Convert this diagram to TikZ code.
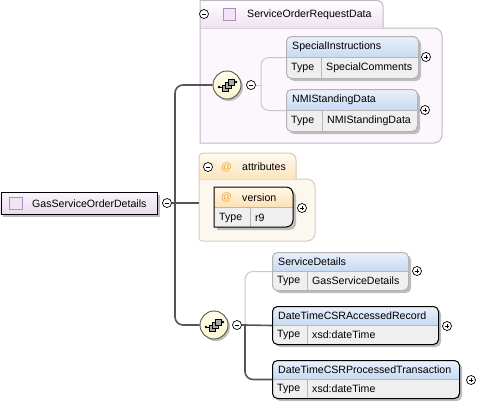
\documentclass[tikz,border=0pt]{standalone}
\usepackage{fontspec}
\setmainfont{Liberation Sans}
\usetikzlibrary{shadows}
\definecolor{shadowc}{HTML}{BDBDBD}
\definecolor{typefill}{HTML}{EFEFEF}
\definecolor{hdtop}{HTML}{EAF1FB}
\definecolor{hdbot}{HTML}{C8DAF2}
\definecolor{divc}{HTML}{B8B8B8}
\definecolor{optgray}{HTML}{B4B4B4}
\definecolor{conngray}{HTML}{555555}
\definecolor{optconn}{HTML}{C8C8C8}
\definecolor{grpborder}{HTML}{C2B8C6}
\definecolor{grpfill}{HTML}{FBF7FC}
\definecolor{tabbot}{HTML}{EDE1F1}
\definecolor{attborder}{HTML}{D6CCBC}
\definecolor{attfill}{HTML}{FDF8EF}
\definecolor{atttabbot}{HTML}{FBE4BD}
\definecolor{atttabtop}{HTML}{FFFAF0}
\definecolor{athdtop}{HTML}{FFF7E8}
\definecolor{athdbot}{HTML}{FCE2B4}
\definecolor{atsign}{HTML}{E8A33C}
\definecolor{roottop}{HTML}{FAF5FB}
\definecolor{rootbot}{HTML}{E8DCEE}
\definecolor{iconfill}{HTML}{F1E4F5}
\definecolor{iconborder}{HTML}{B48CC4}
\definecolor{seqfill}{HTML}{FCF7CE}
\definecolor{seqtop}{HTML}{FFFDEB}
\definecolor{sqfill}{HTML}{A8A8A8}
\tikzset{
  lbl/.style={inner sep=0pt, anchor=west, text=black},
  reqel/.style={draw=black, line width=1pt, rounded corners=5pt, inner sep=0pt},
  optel/.style={draw=optgray, line width=1pt, rounded corners=5pt, inner sep=0pt},
  pmcirc/.style={circle, draw=black, fill=white, inner sep=0pt, minimum size=9pt, line width=0.7pt},
  minusc/.style={pmcirc, path picture={\draw[line width=0.8pt] ([xshift=-2.3pt]path picture bounding box.center) -- ([xshift=2.3pt]path picture bounding box.center);}},
  plusc/.style={pmcirc, path picture={\draw[line width=0.8pt] ([xshift=-2.3pt]path picture bounding box.center) -- ([xshift=2.3pt]path picture bounding box.center); \draw[line width=0.8pt] ([yshift=-2.3pt]path picture bounding box.center) -- ([yshift=2.3pt]path picture bounding box.center);}},
  seqc/.style={circle, draw=conngray, line width=0.9pt, inner sep=0pt, minimum size=28pt, top color=seqtop, bottom color=seqfill, drop shadow={shadow xshift=2pt, shadow yshift=-2pt, fill=shadowc, opacity=1}},
  conn/.style={draw=conngray, line width=1.6pt},
  oconn/.style={draw=optconn, line width=1pt},
}
\newcommand{\xsdelem}[9]{%
  \fill[shadowc, rounded corners=5pt] ({#3+3},{#4+3}) rectangle ({#5+3},{#6+3});
  \begin{scope}
    \clip[rounded corners=5pt] (#3,#4) rectangle (#5,#6);
    \fill[typefill] (#3,#4) rectangle (#5,#6);
    \shade[top color=hdtop, bottom color=hdbot] (#3,#4) rectangle (#5,{(#4+#6)/2});
    \draw[divc] (#3,{(#4+#6)/2}) -- (#5,{(#4+#6)/2});
    \draw[divc] (#7,{(#4+#6)/2}) -- (#7,#6);
  \end{scope}
  \node[#1, minimum width={#5-#3}, minimum height={#6-#4}, anchor=north west] (#2) at (#3,#4) {};
  \node[lbl] (#2-n) at ({#3+6},{(3*#4+#6)/4+0.5}) {#8};
  \node[lbl] (#2-k) at ({#3+5},{(#4+3*#6)/4+0.5}) {Type};
  \node[lbl] (#2-v) at ({#7+5},{(#4+3*#6)/4+0.5}) {#9};
}
\newcommand{\seqicon}[1]{%
  \begin{scope}[shift={(#1)}]
    \draw[line width=0.8pt] (-8,2) -- (-3,2);
    \fill (-8,2) circle (1.3);
    \draw[line width=0.8pt] (4,-3) -- (9,-3);
    \fill (9,-3) circle (1.3);
    \draw[fill=sqfill, line width=0.6pt] (-5,0) rectangle (1,6);
    \draw[fill=sqfill, line width=0.6pt] (-2,-3) rectangle (4,3);
    \draw[fill=sqfill, line width=0.6pt] (1,-6) rectangle (7,0);
  \end{scope}
}
\begin{document}
\begin{tikzpicture}[x=1pt,y=-1pt, every node/.style={font=\fontsize{10.6}{12}\selectfont}]
\useasboundingbox (0,0) rectangle (478,405);

% ---------- group ServiceOrderRequestData ----------
\draw[grpborder, fill=grpfill, line width=1pt] (200,28) [rounded corners=8pt] -- (442,28) -- (442,143) [sharp corners] -- (200,143) -- cycle;
\shade[top color=white, bottom color=tabbot, rounded corners=6pt] (200,0.5) [sharp corners] -- (200,28) -- (383,28) [rounded corners=6pt] -- (383,0.5) -- cycle;
\draw[grpborder, line width=1pt] (200,28) -- (200,0.5) [rounded corners=6pt] -- (383,0.5) -- (383,28);
\node[minusc] (mg1) at (204,14) {};
\draw[iconborder, fill=iconfill, line width=0.8pt] (223,8) rectangle (235,20);
\node[lbl] (g1t) at (247,14.5) {ServiceOrderRequestData};

% ---------- group attributes ----------
\draw[attborder, fill=attfill, line width=1pt] (199,179) [rounded corners=8pt] -- (315,179) -- (315,241) [rounded corners=3pt] -- (199,241) [sharp corners] -- cycle;
\shade[top color=atttabtop, bottom color=atttabbot] (199,179) [rounded corners=4pt] -- (199,153) [rounded corners=7pt] -- (296,153) [sharp corners] -- (296,179) -- cycle;
\draw[attborder, line width=1pt] (199,179) [rounded corners=4pt] -- (199,153) [rounded corners=7pt] -- (296,153) [sharp corners] -- (296,179);
\node[minusc] (mg2) at (208,167) {};
\node[lbl, text=atsign] (at1) at (221,167) {@};
\node[lbl] (g2t) at (242,167) {attributes};
\coordinate (ag) at (199,203);

% version attribute
\fill[shadowc] (217,190) [rounded corners=7pt] -- (296,190) -- (296,230) [sharp corners] -- (217,230) -- cycle;
\begin{scope}
  \clip (214,187) [rounded corners=7pt] -- (293,187) -- (293,227) [sharp corners] -- (214,227) -- cycle;
  \fill[typefill] (214,187) rectangle (293,227);
  \shade[top color=athdtop, bottom color=athdbot] (214,187) rectangle (293,207);
  \draw[divc] (214,207) -- (293,207);
  \draw[divc] (250,207) -- (250,227);
\end{scope}
\draw[black, line width=1pt] (214,187) [rounded corners=7pt] -- (293,187) -- (293,227) [sharp corners] -- (214,227) -- cycle;
\coordinate (ver) at (293,207);
\node[lbl, text=atsign] (at2) at (221,197.5) {@};
\node[lbl] (vern) at (242,197.5) {version};
\node[lbl] (verk) at (219,217.5) {Type};
\node[lbl] (verv) at (255,217.5) {r9};
\node[plusc] (pv) at (302,208) {};

% ---------- root element ----------
\fill[shadowc] (3,195) rectangle (160,217);
\shade[top color=roottop, bottom color=rootbot] (0,192) rectangle (157,214);
\node[draw=black, line width=1pt, inner sep=0pt, minimum width=156.5pt, minimum height=22pt, anchor=north west] (root) at (0.5,192) {};
\draw[iconborder, fill=iconfill, line width=0.8pt] (9,197) rectangle (22,209);
\node[lbl] (roott) at (32,203.5) {GasServiceOrderDetails};
\node[minusc] (m0) at (167,203) {};

% ---------- sequences ----------
\node[seqc] (s1) at (227,85) {};
\seqicon{s1.center}
\node[minusc] (m1) at (251,85) {};
\node[seqc] (s2) at (214,325) {};
\seqicon{s2.center}
\node[minusc] (m2) at (237,325) {};

% ---------- elements ----------
\xsdelem{optel}{e1}{286}{36}{418}{78}{321}{SpecialInstructions}{SpecialComments}
\node[plusc] (p1) at (426,57) {};
\xsdelem{optel}{e2}{286}{89}{417}{131}{322}{NMIStandingData}{NMIStandingData}
\node[plusc] (p2) at (425,110) {};
\xsdelem{optel}{e3}{272}{252}{408}{290}{307}{ServiceDetails}{GasServiceDetails}
\node[plusc] (p3) at (417,271) {};
\xsdelem{reqel}{e4}{272}{306}{438}{344}{307}{DateTimeCSRAccessedRecord}{xsd:dateTime}
\node[plusc] (p4) at (447,326) {};
\xsdelem{reqel}{e5}{272}{360}{459}{398}{307}{DateTimeCSRProcessedTransaction}{xsd:dateTime}
\node[plusc] (p5) at (471,380) {};

% ---------- connectors ----------
\coordinate (j0) at (175,203);
\draw[conn, rounded corners=8pt] (j0) |- (s1.west);
\draw[conn, rounded corners=8pt] (j0) |- (s2.west);
\draw[conn] (m0.east) -- (j0) -- (ag);

\coordinate (j1) at (261,85);
\draw[oconn] (m1.east) -- (j1);
\draw[oconn, rounded corners=8pt] (j1) |- (e1.west);
\draw[oconn, rounded corners=8pt] (j1) |- (e2.west);

\coordinate (j2) at (245,325);
\draw[oconn, rounded corners=8pt] (j2) |- (e3.west);
\draw[conn] (m2.east) -- (j2) -- (e4.west);
\draw[conn, rounded corners=8pt] (j2) |- (e5.west);
\end{tikzpicture}
\end{document}
